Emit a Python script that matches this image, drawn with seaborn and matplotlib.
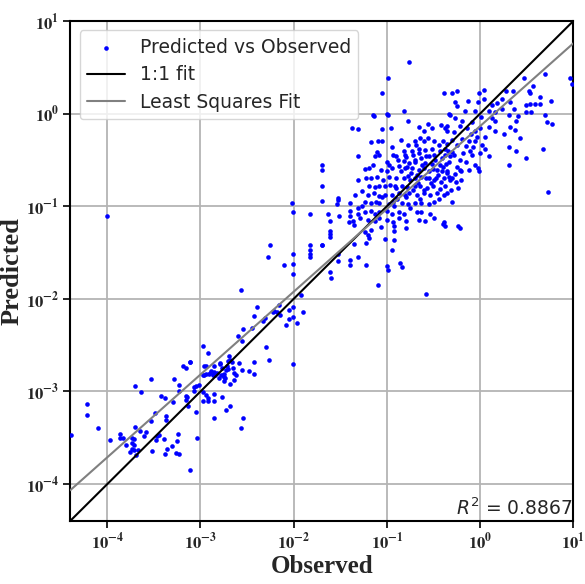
import numpy as np
import matplotlib
matplotlib.use("Agg")
import matplotlib.pyplot as plt
from matplotlib.ticker import FixedLocator, FuncFormatter, NullLocator
import seaborn as sns

# values are log10(observed), log10(predicted)
low_cluster = [
    (-4.39, -3.47), (-4.22, -3.14), (-4.22, -3.25), (-4.10, -3.39), (-3.97, -3.52),
    (-3.86, -3.46), (-3.86, -3.50), (-3.83, -3.50), (-3.80, -3.58), (-3.74, -3.50),
    (-3.71, -3.51), (-3.73, -3.56), (-3.71, -3.58), (-3.73, -3.62), (-3.76, -3.65),
    (-3.71, -3.63), (-3.67, -3.63), (-3.69, -3.69), (-3.70, -3.38), (-3.65, -3.43),
    (-3.61, -3.48), (-3.58, -3.44), (-3.70, -2.94), (-3.64, -3.01), (-3.53, -2.87),
    (-3.53, -3.32), (-3.49, -3.23), (-3.48, -3.52), (-3.47, -3.48), (-3.45, -3.47),
    (-3.52, -3.64), (-3.42, -3.05), (-3.38, -3.07), (-3.37, -3.27), (-3.37, -3.31),
    (-3.39, -3.51), (-3.36, -3.62), (-3.38, -3.67), (-3.31, -3.59), (-3.29, -3.11),
    (-3.28, -2.87), (-3.24, -3.46), (-3.23, -2.93), (-3.23, -3.00), (-3.25, -3.53),
    (-3.26, -3.66), (-3.23, -3.67), (-3.19, -2.72), (-3.16, -2.75), (-3.11, -2.68),
    (-3.16, -3.05), (-3.16, -3.09), (-3.14, -3.06), (-3.13, -3.16), (-3.11, -3.85),
    (-3.07, -3.00), (-3.07, -2.95), (-3.05, -3.22), (-3.04, -3.50), (-3.02, -2.93),
    (-2.96, -2.72), (-2.96, -2.82), (-2.94, -2.81), (-2.97, -3.01), (-2.94, -3.04),
    (-2.97, -3.10), (-2.92, -3.07), (-2.92, -3.10), (-2.90, -2.80), (-2.86, -2.79),
    (-2.86, -3.03), (-2.86, -3.10), (-2.86, -3.29), (-2.84, -2.82), (-2.80, -2.86),
    (-2.79, -2.70), (-2.77, -3.06), (-2.78, -2.82), (-2.75, -2.81), (-2.74, -2.86),
    (-2.73, -3.20), (-2.57, -3.39), (-2.54, -3.29), (-2.68, -3.16),
]

mid_cluster = [
    (-3.11, -2.68), (-2.97, -2.51), (-2.92, -2.59), (-3.05, -2.94), (-2.97, -2.82),
    (-2.94, -2.72), (-2.91, -2.81), (-2.89, -2.78), (-2.87, -2.82), (-2.86, -2.73),
    (-2.82, -2.80), (-2.79, -2.69), (-2.77, -2.75), (-2.76, -2.82), (-2.75, -2.84),
    (-2.75, -2.89), (-2.73, -2.77), (-2.72, -2.72), (-2.71, -2.67), (-2.69, -2.62),
    (-2.68, -2.66), (-2.66, -2.68), (-2.70, -2.76), (-2.65, -2.75), (-2.64, -2.80),
    (-2.62, -2.82), (-2.64, -2.88), (-2.68, -2.92), (-2.59, -2.69), (-2.55, -2.77),
    (-2.48, -2.78), (-2.43, -2.68), (-2.43, -2.81), (-2.27, -2.66), (-2.30, -2.52),
    (-2.55, -2.46), (-2.60, -2.40), (-2.54, -2.33), (-2.45, -2.31), (-2.43, -2.18),
    (-2.39, -2.09), (-2.33, -2.24), (-2.31, -2.21), (-2.22, -2.14), (-2.21, -2.13),
    (-2.18, -2.14), (-2.16, -2.07), (-2.15, -2.17), (-2.08, -2.28), (-2.05, -2.12),
    (-2.05, -2.22), (-2.01, -2.20), (-2.01, -2.09), (-1.96, -2.26), (-1.90, -2.14),
    (-1.92, -1.96), (-2.01, -2.70), (-2.57, -1.90), (-2.28, -1.55), (-2.25, -1.42),
    (-2.10, -1.63), (-2.01, -1.52), (-2.01, -1.62), (-2.01, -1.73), (-1.82, -1.42),
    (-1.82, -1.52), (-1.70, -1.42), (-1.61, -1.16), (-1.61, -1.27), (-1.61, -1.30),
    (-1.61, -1.33), (-1.52, -1.52), (-1.52, -1.59), (-1.61, -1.71), (-1.41, -1.17),
    (-2.02, -0.97), (-2.01, -1.06),
]

core_cluster = [
    (-1.15, -0.02), (-1.00, 0.00), (-0.82, 0.03), (-0.77, -0.08), (-0.56, -0.11),
    (-0.42, -0.12), (-0.33, 0.00), (-1.37, -0.16), (-1.31, -0.17), (-1.05, -0.17),
    (-0.96, -0.15), (-0.66, -0.14), (-0.60, -0.19), (-0.52, -0.16), (-0.38, -0.15),
    (-0.35, -0.19), (-1.10, -0.30), (-1.05, -0.30), (-1.17, -0.31), (-0.85, -0.29),
    (-0.70, -0.30), (-0.56, -0.26), (-0.64, -0.26), (-0.60, -0.30), (-0.77, -0.34),
    (-0.69, -0.34), (-0.49, -0.30), (-0.44, -0.34), (-0.82, -0.40), (-0.73, -0.40),
    (-0.66, -0.38), (-0.59, -0.39), (-0.52, -0.38), (-0.43, -0.40), (-0.38, -0.38),
    (-1.11, -0.41), (-0.93, -0.45), (-0.90, -0.46), (-1.13, -0.46), (-1.31, -0.46),
    (-0.81, -0.45), (-0.72, -0.45), (-0.66, -0.43), (-0.63, -0.48), (-0.55, -0.46),
    (-0.49, -0.45), (-0.41, -0.48), (-0.32, -0.46), (-1.00, -0.52), (-0.82, -0.51),
    (-0.76, -0.53), (-0.70, -0.52), (-0.59, -0.53), (-0.52, -0.54), (-0.43, -0.56),
    (-0.37, -0.54), (-1.24, -0.60), (-1.19, -0.59), (-1.06, -0.61), (-0.95, -0.59),
    (-0.87, -0.57), (-0.81, -0.59), (-0.73, -0.59), (-0.66, -0.61), (-0.60, -0.59),
    (-0.46, -0.61), (-0.36, -0.62), (-1.70, -0.61), (-1.31, -0.72), (-1.17, -0.70),
    (-1.11, -0.68), (-1.04, -0.72), (-0.98, -0.68), (-0.90, -0.70), (-0.82, -0.69),
    (-0.77, -0.67), (-0.70, -0.70), (-0.63, -0.68), (-0.55, -0.70), (-0.49, -0.72),
    (-0.39, -0.70), (-0.32, -0.72), (-1.70, -0.78), (-1.19, -0.78), (-1.13, -0.79),
    (-1.08, -0.78), (-0.97, -0.77), (-0.91, -0.78), (-0.84, -0.78), (-0.78, -0.79),
    (-0.70, -0.78), (-0.64, -0.78), (-0.57, -0.80), (-0.50, -0.78), (-0.43, -0.81),
    (-0.38, -0.78), (-1.20, -0.88), (-1.14, -0.86), (-1.09, -0.89), (-1.02, -0.88),
    (-0.95, -0.88), (-0.87, -0.86), (-0.81, -0.88), (-0.76, -0.86), (-0.68, -0.88),
    (-0.60, -0.86), (-0.54, -0.88), (-0.46, -0.86), (-0.39, -0.88), (-1.52, -0.91),
    (-1.70, -0.94), (-1.53, -0.98), (-1.40, -0.97), (-1.24, -0.95), (-1.17, -0.97),
    (-1.08, -0.96), (-0.98, -0.98), (-0.93, -0.95), (-0.84, -0.96), (-0.77, -0.98),
    (-0.70, -0.97), (-0.63, -0.96), (-0.55, -0.98), (-0.49, -0.95), (-1.63, -1.08),
    (-1.51, -1.10), (-1.40, -1.05), (-1.40, -1.10), (-1.31, -1.02), (-1.31, -1.08),
    (-1.24, -1.06), (-1.17, -1.05), (-1.13, -1.08), (-1.08, -1.06), (-1.00, -1.05),
    (-0.95, -1.08), (-0.87, -1.06), (-0.82, -1.08), (-0.68, -1.06), (-0.63, -1.06),
    (-0.54, -1.08), (-1.36, -1.16), (-1.29, -1.13), (-1.20, -1.15), (-1.13, -1.16),
    (-1.08, -1.13), (-1.00, -1.15), (-0.93, -1.17), (-0.87, -1.13), (-0.79, -1.16),
    (-0.66, -1.15), (-0.59, -1.16), (-0.49, -1.13), (-1.70, -1.42), (-1.40, -1.58),
    (-1.40, -1.63), (-1.35, -1.41), (-1.35, -1.20), (-1.31, -1.55), (-1.22, -1.63),
    (-1.22, -1.40), (-1.24, -1.28), (-1.20, -1.31), (-1.17, -1.26), (-1.19, -1.34),
    (-1.06, -1.22), (-1.02, -1.35), (-1.00, -1.65), (-1.10, -1.85), (-0.94, -1.47),
    (-0.92, -1.36), (-0.92, -1.27), (-0.92, -1.21), (-0.86, -1.61), (-0.80, -1.24),
    (-0.58, -1.95), (-0.40, -1.19), (-1.83, -1.08), (-1.83, -1.47), (-1.83, -1.55),
    (-1.60, -1.77), (-1.52, -0.93), (-1.14, -0.03), (-0.99, -0.01), (-0.99, -1.69),
    (-0.84, -1.66), (-0.22, -1.24), (-0.38, -1.21), (-1.70, -0.55),
    (-1.00, -0.62), (-0.90, -0.80), (-0.75, -0.72), (-0.70, -0.50), (-0.62, -0.55),
    (-0.58, -0.70), (-0.55, -0.62), (-0.50, -0.60), (-0.48, -0.50), (-0.45, -0.66),
    (-0.85, -0.62), (-0.78, -0.58), (-0.72, -0.82), (-0.67, -0.75), (-0.60, -0.82),
    (-1.05, -0.90), (-1.12, -0.95), (-0.92, -1.00), (-0.80, -0.90), (-0.98, -0.55),
    (-1.27, -0.83), (-1.22, -0.70), (-1.15, -0.55), (-1.08, -0.45), (-0.95, -0.36),
    (-0.88, -0.50), (-0.79, -0.47), (-0.74, -0.64), (-0.68, -0.66), (-0.64, -0.92),
    (-0.58, -0.46), (-0.53, -0.75), (-0.47, -0.70), (-0.44, -0.92), (-0.41, -0.62),
    (-1.34, -0.88), (-1.27, -1.00), (-1.02, -0.78), (-0.89, -0.92), (-0.75, -1.02),
]

upper_cluster = [
    (0.47, 0.39), (0.70, 0.43), (0.96, 0.39), (0.99, 0.32), (0.57, 0.30),
    (0.52, 0.24), (0.54, 0.22), (0.64, 0.18), (0.76, 0.14), (0.64, 0.10),
    (0.59, 0.10), (0.54, 0.10), (0.49, 0.09), (0.55, 0.02), (0.49, 0.02),
    (0.70, -0.02), (0.72, -0.09), (0.41, -0.03), (0.39, -0.08), (0.36, 0.05),
    (0.32, 0.13), (0.35, 0.24), (0.28, 0.24), (0.24, 0.16), (0.24, 0.05),
    (0.18, 0.11), (0.13, 0.09), (0.16, 0.02), (0.10, 0.03), (0.04, 0.25),
    (0.04, 0.16), (-0.01, 0.22), (-0.02, 0.13), (-0.05, 0.03), (0.01, -0.04),
    (0.13, -0.05), (0.16, -0.08), (0.31, -0.02), (0.32, -0.14), (0.37, -0.18),
    (0.43, -0.26), (0.26, -0.22), (0.10, -0.14), (0.05, -0.25), (0.16, -0.19),
    (-0.05, -0.19), (-0.03, -0.25), (-0.09, -0.09), (-0.14, -0.16), (-0.19, -0.08),
    (-0.16, 0.03), (-0.13, 0.14), (-0.25, 0.24), (-0.30, 0.22), (-0.27, 0.13),
    (-0.25, 0.08), (-0.32, -0.02), (-0.39, 0.22), (-0.36, -0.13), (-0.27, -0.05),
    (-0.22, -0.13), (0.02, -0.34), (0.05, -0.38), (0.00, -0.43), (0.10, -0.46),
    (0.31, -0.36), (0.38, -0.40), (0.49, -0.48), (0.68, -0.38), (-0.11, -0.40),
    (-0.09, -0.45), (-0.05, -0.56), (-0.12, -0.61), (-0.02, -0.59), (0.31, -0.56),
    (-0.19, -0.27), (-0.25, -0.34), (-0.30, -0.41), (0.73, -0.85), (-0.01, -0.62),
    (-0.22, -0.61), (-0.27, -0.65), (-0.33, -0.68), (-0.24, -0.80), (-0.31, -0.82),
    (-0.35, -0.86), (-0.30, -0.95), (-0.39, -1.17), (-0.24, -1.21), (0.77, -0.11),
    (-0.40, -0.30), (-0.35, -0.33), (-0.30, -0.28), (-0.28, -0.45), (-0.22, -0.50),
    (-0.18, -0.42), (-0.15, -0.35), (-0.12, -0.30), (-0.33, -0.52), (-0.25, -0.58),
    (-0.20, -0.62), (-0.36, -0.64), (-0.30, -0.70), (-0.26, -0.74), (-0.20, -0.72),
    (-0.15, -0.52), (-0.40, -0.58), (-0.34, -0.40), (-0.08, -0.36), (-0.42, -0.74),
    (-0.38, -0.45), (-0.28, -0.20), (-0.10, -0.22), (-0.05, -0.30), (0.00, -0.15),
]

outliers = [
    (-4.00, -1.11), (-0.76, 0.56), (-0.99, 0.38), (-1.05, 0.22),
]

# least squares fit in log-log space and its score, as printed on the chart
fit_slope = 0.894
fit_intercept = -0.135
r_squared = 0.8867

all_points = np.array(low_cluster + mid_cluster + core_cluster + upper_cluster + outliers)
observed = 10 ** all_points[:, 0]
predicted = 10 ** all_points[:, 1]

sns.set_theme(style="white")
plt.rcParams['font.family'] = ['DejaVu Sans']
plt.rcParams['mathtext.fontset'] = 'stix'

fig = plt.figure(figsize=(5.85, 5.84), dpi=100)
ax = fig.add_axes([0.12, 0.108, 0.86, 0.856])

sns.scatterplot(x=observed, y=predicted, color='blue', s=11, linewidth=0,
                label='Predicted vs Observed', ax=ax, zorder=3)

lims = np.array([4e-5, 10.0])
ax.plot(lims, lims, color='black', lw=1.5, label='1:1 fit', zorder=4)
fit_y = 10 ** (fit_slope * np.log10(lims) + fit_intercept)
ax.plot(lims, fit_y, color='gray', lw=1.5, label='Least Squares Fit', zorder=4)

ax.set_xscale('log')
ax.set_yscale('log')
ax.set_xlim(lims)
ax.set_ylim(lims)

decades = [1e-4, 1e-3, 1e-2, 1e-1, 1e0, 1e1]
fmt = FuncFormatter(lambda v, p: r'$\mathbf{10^{%d}}$' % round(np.log10(v)))
for axis in (ax.xaxis, ax.yaxis):
    axis.set_major_locator(FixedLocator(decades))
    axis.set_minor_locator(NullLocator())
    axis.set_major_formatter(fmt)

ax.tick_params(axis='both', which='major', direction='out', length=5, width=1.2,
               color='black', labelsize=12, bottom=True, left=True, pad=3)
ax.grid(True, color='#b4b4b4', linewidth=1.3)
ax.set_axisbelow(True)
for sp in ax.spines.values():
    sp.set_color('black')
    sp.set_linewidth(1.5)

ax.set_xlabel('Observed', fontsize=18, fontweight='bold', family='Liberation Serif')
ax.xaxis.set_label_coords(0.5, -0.068)
ax.set_ylabel('Predicted', fontsize=19, fontweight='bold', family='Liberation Serif')
ax.yaxis.set_label_coords(-0.093, 0.5)

ax.legend(loc='upper left', fontsize=13.5, frameon=True, fancybox=True,
          framealpha=0.8, edgecolor='#cccccc', labelspacing=0.45)

ax.text(0.998, 0.004, r'$R^2$ = %.4f' % r_squared, transform=ax.transAxes,
        ha='right', va='bottom', fontsize=13.5, math_fontfamily='dejavusans')

fig.savefig('out.png', dpi=100)
